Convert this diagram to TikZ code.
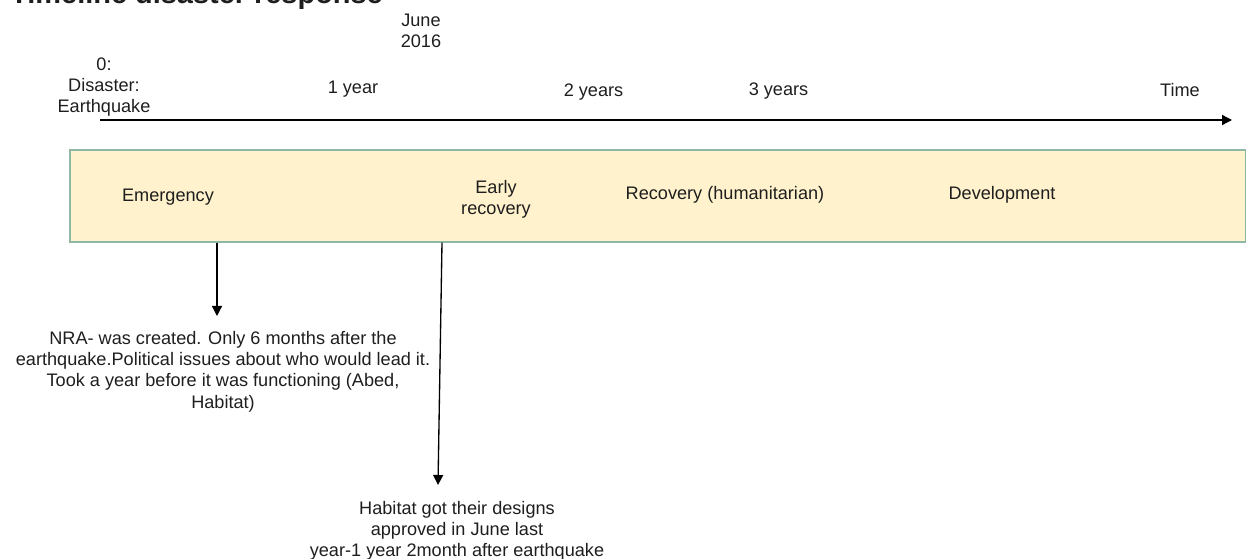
\documentclass[tikz,border=0pt]{standalone}
\usepackage{fontspec}
\setmainfont{Liberation Sans}
\definecolor{band}{HTML}{FFF2CC}
\definecolor{bandline}{HTML}{8DB8A4}
\definecolor{ink}{HTML}{1E1E1E}
\usetikzlibrary{arrows.meta, positioning}
\tikzset{
  lbl/.style={font=\fontsize{13.6}{15.9}\selectfont, text=ink, align=center, inner sep=0pt},
  note/.style={lbl, anchor=north},
  phasebar/.style={draw=bandline, fill=band, line width=0.8pt, inner sep=0pt},
  flow/.style={-{Triangle[length=7.5pt,width=7.5pt]}, line width=1pt, color=black},
}
\begin{document}
\begin{tikzpicture}[x=0.75pt,y=-0.75pt]
\useasboundingbox (0,0) rectangle (1247,559);
\node[lbl,anchor=base west,font=\bfseries\fontsize{21.7}{26}\selectfont] (title) at (10,4) {Timeline disaster response};
% time axis
\node[lbl] (june) at (421,30.5) {June\\2016};
\node[lbl] (quake) at (104,87) {0:\\Disaster:\\Earthquake};
\node[lbl] (y1) at (353,89) {1 year};
\node[lbl] (y2) at (593.5,92) {2 years};
\node[lbl] (y3) at (778.5,91) {3 years};
\node[lbl] (time) at (1180,90) {Time};
\coordinate (t0) at (100,120);
\coordinate (tend) at (1232,120);
\draw[flow] (t0)--(tend);
% phases
\node[phasebar,minimum width=881.6pt,minimum height=69pt] (phases) at (657.75,196) {};
\node[lbl] (emerg) at (168,197) {Emergency};
\node[lbl] (early) at (496,199) {Early\\recovery};
\node[lbl] (recov) at (725,195) {Recovery (humanitarian)};
\node[lbl] (devel) at (1002,195) {Development};
% notes
\coordinate (nraTip) at (217,316);
\coordinate (habBase) at (442,242);
\coordinate (habTip) at (438,485);
\draw[flow] (phases.south -| nraTip)--(nraTip);
\draw[flow] (phases.south -| habBase)--(habTip);
\node[note] (nra) at (223,331) {NRA- was created. Only 6 months after the\\earthquake.Political issues about who would lead it.\\Took a year before it was functioning (Abed,\\Habitat)};
\node[note] (hab) at (457,501) {Habitat got their designs\\approved in June last\\year-1 year 2month after earthquake};
\end{tikzpicture}
\end{document}
